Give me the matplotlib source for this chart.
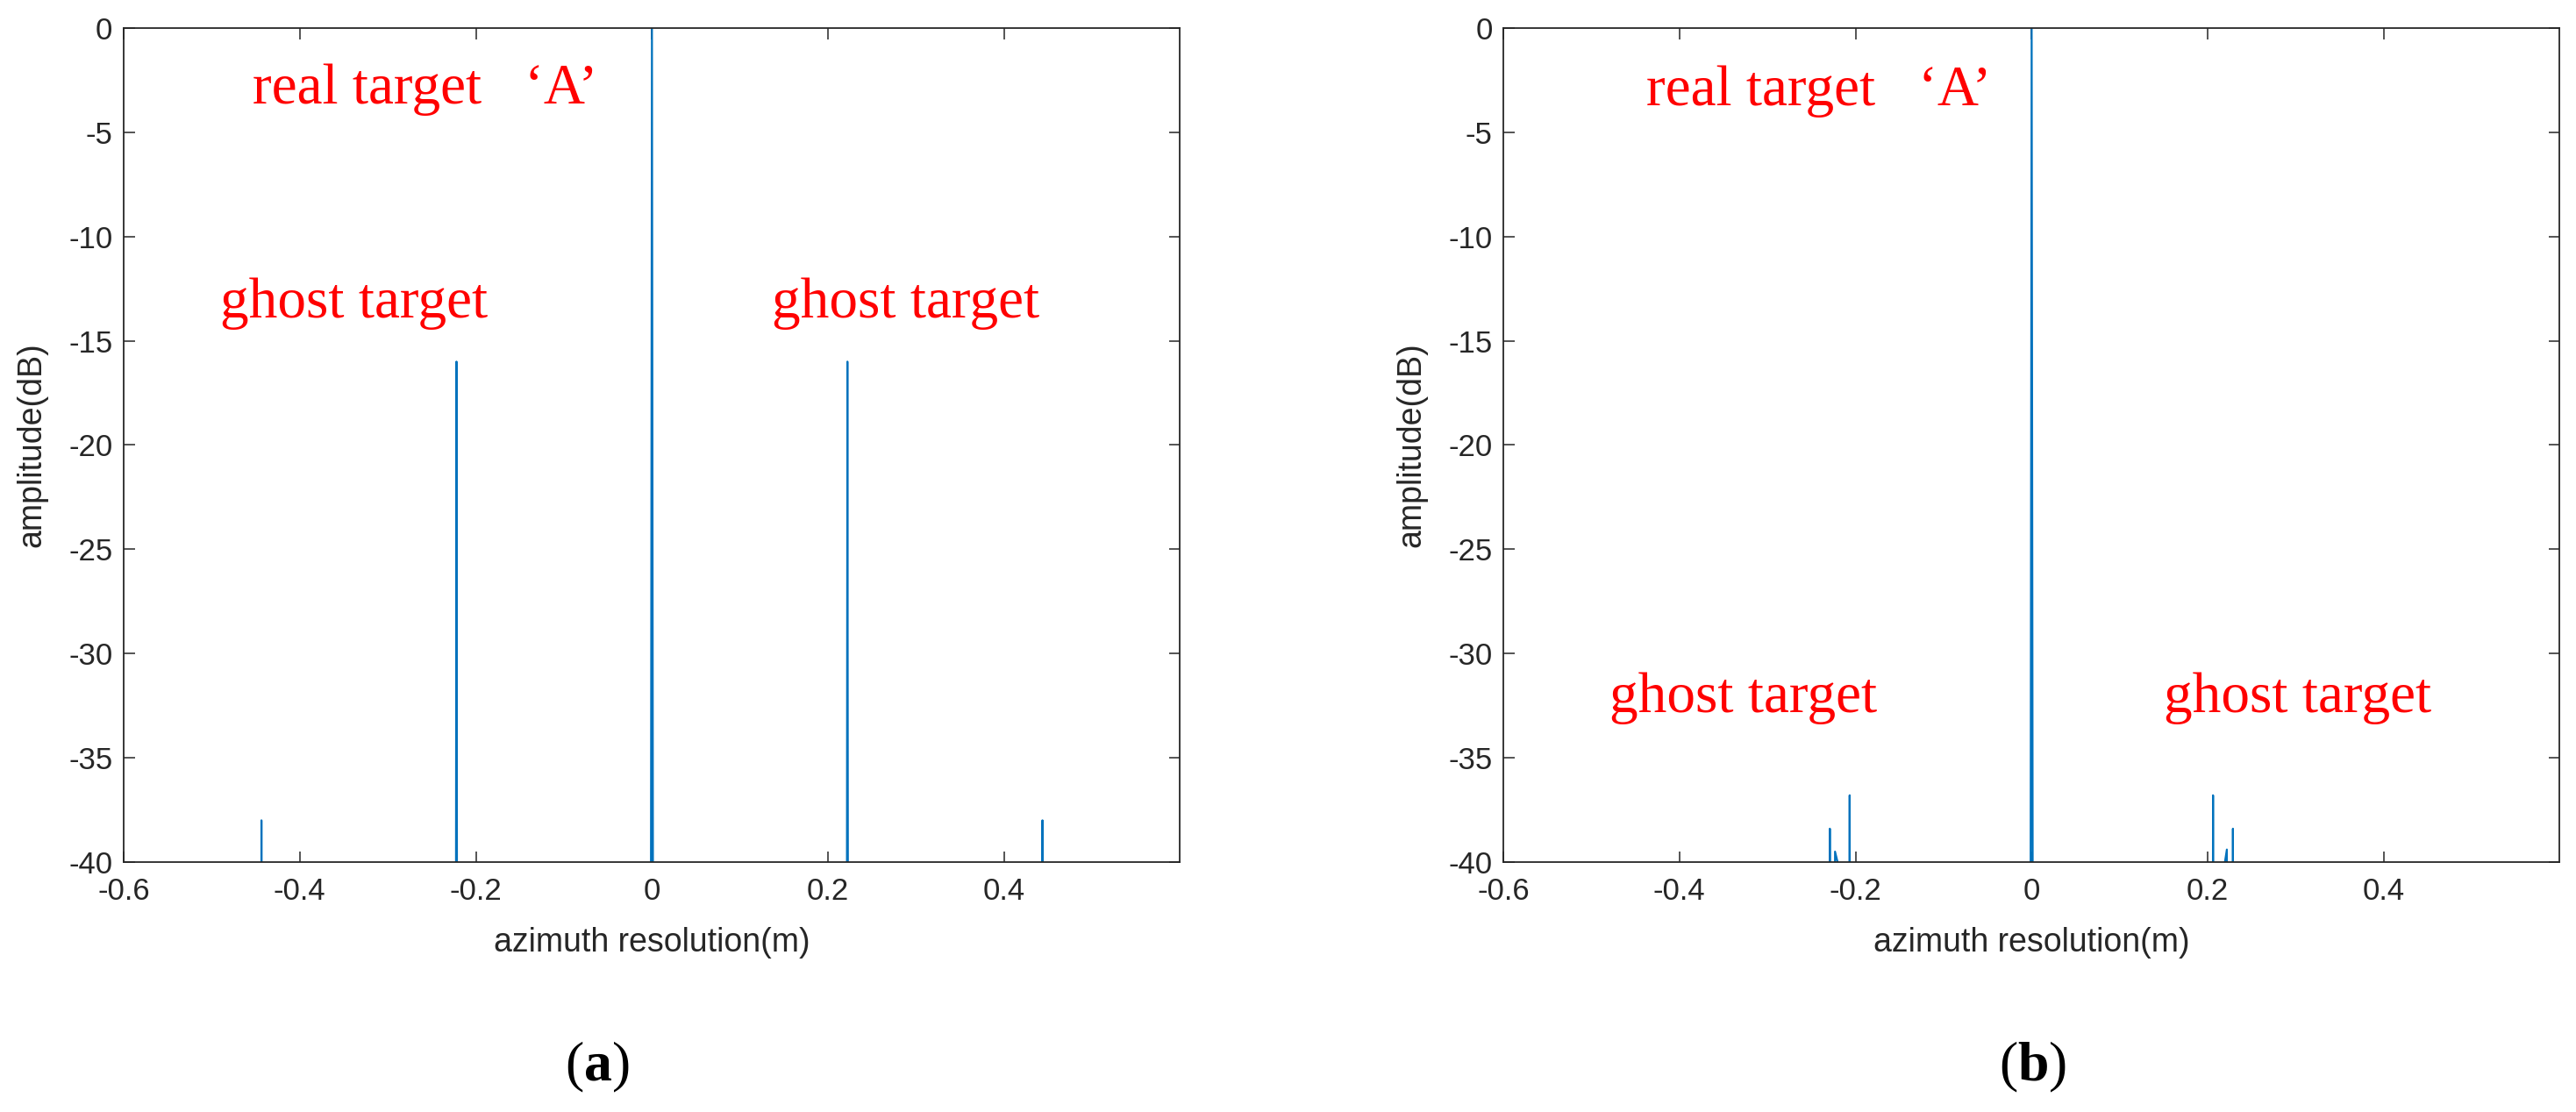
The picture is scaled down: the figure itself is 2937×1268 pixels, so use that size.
import matplotlib
matplotlib.use('Agg')
import matplotlib.pyplot as plt

plt.rcParams['axes.unicode_minus'] = False
plt.rcParams['font.family'] = ['Liberation Sans', 'DejaVu Sans']
plt.rcParams['mathtext.fontset'] = 'custom'
plt.rcParams['mathtext.rm'] = 'Liberation Serif'
plt.rcParams['mathtext.bf'] = 'Liberation Serif:bold'

# panel (a): peaks of the azimuth profile, dB (values below -40 are clipped)
xa = [-0.6, -0.4443, -0.4435, -0.4427, -0.2234, -0.2220, -0.2206,
      -0.0022, 0.0, 0.0022, 0.2206, 0.2220, 0.2234, 0.4427, 0.4435, 0.4443, 0.6]
ya = [-80, -80, -38.0, -80, -80, -16.0, -80,
      -80, 0.0, -80, -80, -16.0, -80, -80, -38.0, -80, -80]

# panel (b)
xb = [-0.6, -0.2302, -0.2292, -0.2284, -0.2243, -0.2233, -0.2187, -0.2080, -0.2067, -0.2054,
      -0.0023, 0.0, 0.0023,
      0.2047, 0.2060, 0.2073, 0.2184, 0.2217, 0.2226, 0.2278, 0.2286, 0.2294, 0.6]
yb = [-80, -80, -38.4, -80, -80, -39.5, -40.3, -80, -36.8, -80,
      -80, 0.0, -80,
      -80, -36.8, -80, -40.3, -39.4, -80, -80, -38.4, -80, -80]

xticks = [-0.6, -0.4, -0.2, 0, 0.2, 0.4]
xticklabels = ['-0.6', '-0.4', '-0.2', '0', '0.2', '0.4']
yticks = [0, -5, -10, -15, -20, -25, -30, -35, -40]

# annotations: (text, x, y baseline)
notes_a = [('real target   \u2018A\u2019', -0.454, -3.6),
           ('ghost target', -0.49, -13.9),
           ('ghost target', 0.136, -13.9)]
notes_b = [('real target   \u2018A\u2019', -0.438, -3.7),
           ('ghost target', -0.48, -32.8),
           ('ghost target', 0.15, -32.8)]

line_color = '#0072BD'
text_color = '#262626'

fig = plt.figure(figsize=(29.37, 12.68), dpi=100)
ax_a = fig.add_axes([0.048, 0.2248, 0.41, 0.75])
ax_b = fig.add_axes([0.5836, 0.2248, 0.41, 0.75])


def style_axes(ax):
    ax.set_xlim(-0.6, 0.5995)
    ax.set_ylim(-40, 0)
    ax.set_xticks(xticks)
    ax.set_xticklabels(xticklabels)
    ax.set_yticks(yticks)
    ax.set_yticklabels([str(v) for v in yticks])
    ax.tick_params(direction='in', length=9, width=1.1, colors=text_color,
                   labelsize=25, top=True, right=True)
    ax.tick_params(axis='x', pad=12)
    ax.tick_params(axis='y', pad=9)
    for sp in ax.spines.values():
        sp.set_color(text_color)
        sp.set_linewidth(1.3)
    ax.set_xlabel('azimuth resolution(m)', fontsize=27, color=text_color)
    ax.set_ylabel('amplitude(dB)', fontsize=27, color=text_color)
    ax.xaxis.set_label_coords(0.5, -0.078)
    ax.yaxis.set_label_coords(-0.072, 0.5)


for ax, xs, ys, notes in [(ax_a, xa, ya, notes_a), (ax_b, xb, yb, notes_b)]:
    ax.plot(xs, ys, color=line_color, linewidth=1.6)
    style_axes(ax)
    for txt, tx, ty in notes:
        ax.text(tx, ty, txt, color='#FF0000', fontsize=47,
                family='Liberation Serif', ha='left', va='baseline')

fig.text(681 / 2937, 1 - 1217 / 1268, r'($\mathbf{a}$)', fontsize=46,
         family='Liberation Serif', ha='center', va='center')
fig.text(2318 / 2937, 1 - 1217 / 1268, r'($\mathbf{b}$)', fontsize=46,
         family='Liberation Serif', ha='center', va='center')

fig.savefig('out.png', dpi=100, facecolor='white')
